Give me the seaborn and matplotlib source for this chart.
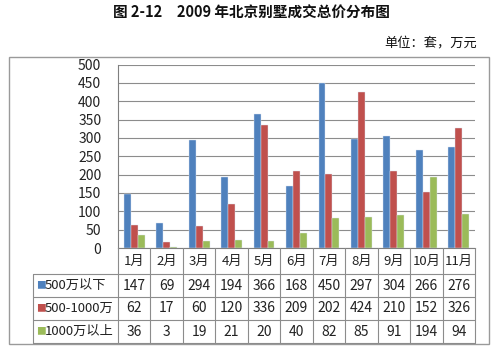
import numpy as np
import pandas as pd
import matplotlib
matplotlib.use("Agg")
import matplotlib.pyplot as plt
import seaborn as sns
from matplotlib.transforms import blended_transform_factory
from matplotlib.lines import Line2D
from matplotlib.patches import Rectangle

months = ["1月", "2月", "3月", "4月", "5月", "6月", "7月", "8月", "9月", "10月", "11月"]
series_names = ["500万以下", "500-1000万", "1000万以上"]
below_500 = [147, 69, 294, 194, 366, 168, 450, 297, 304, 266, 276]
mid_500_1000 = [62, 17, 60, 120, 336, 209, 202, 424, 210, 152, 326]
above_1000 = [36, 3, 19, 21, 20, 40, 82, 85, 91, 194, 94]
colors = ["#4F81BD", "#C0504D", "#9BBB59"]
title = "图 2-12　2009 年北京别墅成交总价分布图"
unit = "单位：套，万元"

sns.set_theme(style="white")
plt.rcParams["font.family"] = ["Noto Sans CJK SC", "DejaVu Sans"]

W, H = 500, 351
fig = plt.figure(figsize=(W / 100, H / 100), dpi=100)
fig.patch.set_facecolor("white")

def fx(px):
    return px / W

def fy(py):
    return 1 - py / H

ax_l, ax_r, ax_t, ax_b = 118, 475, 64.5, 248
ax = fig.add_axes([fx(ax_l), fy(ax_b), fx(ax_r - ax_l), (ax_b - ax_t) / H])

values_all = [below_500, mid_500_1000, above_1000]
df = pd.DataFrame({
    "month": np.tile(months, 3),
    "series": np.repeat(series_names, len(months)),
    "value": np.concatenate(values_all),
})
sns.barplot(data=df, x="month", y="value", hue="series", order=months,
            hue_order=series_names, palette=colors, width=0.64, dodge=True,
            ax=ax, legend=False, saturation=1, errorbar=None)
for p in ax.patches:
    p.set_edgecolor("#dce6f2")
    p.set_linewidth(0.3)

ax.set_xlim(-0.5, len(months) - 0.5)
ax.set_ylim(0, 500)
ax.set_yticks(np.arange(0, 501, 50))
ax.yaxis.grid(True, color="#8c8c8c", linewidth=0.8)
ax.set_axisbelow(True)
ax.set_xlabel("")
ax.set_ylabel("")
ax.set_xticks([])
ax.tick_params(axis="y", length=0, pad=12, labelsize=10, labelcolor="#222222")
for s in ["top", "right"]:
    ax.spines[s].set_visible(False)
ax.spines["left"].set_color("#7f7f7f")
ax.spines["bottom"].set_color("#7f7f7f")
ax.spines["left"].set_linewidth(0.8)
ax.spines["bottom"].set_linewidth(0.8)

# outer frame
fig.add_artist(Rectangle((fx(9), fy(344)), fx(489 - 9), (344 - 57) / H,
                         transform=fig.transFigure, fill=False,
                         edgecolor="#9a9a9a", linewidth=1.0))

# data table
tr = blended_transform_factory(ax.transData, fig.transFigure)
line_c = "#8c8c8c"
rows_y = [248, 274, 297, 320, 343]
for i in range(len(months) + 1):
    fig.add_artist(Line2D([i - 0.5, i - 0.5], [fy(248), fy(343)], transform=tr,
                          color=line_c, linewidth=0.8))
for yy in rows_y[1:]:
    fig.add_artist(Line2D([fx(33), fx(ax_r)], [fy(yy), fy(yy)],
                          transform=fig.transFigure, color=line_c, linewidth=0.8))
fig.add_artist(Line2D([fx(33), fx(33)], [fy(274), fy(343)],
                      transform=fig.transFigure, color=line_c, linewidth=0.8))

for i, m in enumerate(months):
    fig.text(i, fy((248 + 274) / 2), m, transform=tr, ha="center", va="center",
             fontsize=9.5, color="#222222")
for r, (name, vals, c) in enumerate(zip(series_names, values_all, colors)):
    yc = fy((rows_y[r + 1] + rows_y[r + 2]) / 2)
    fig.text(fx(36), yc, "■", color=c, ha="left", va="center", fontsize=7)
    fig.text(fx(45), yc, name, color="#222222", ha="left", va="center", fontsize=9.5)
    for i, v in enumerate(vals):
        fig.text(i, yc, str(v), transform=tr, ha="center", va="center",
                 fontsize=10, color="#222222")

fig.text(fx(251), fy(13), title, ha="center", va="center", fontsize=10.5,
         fontweight="bold", color="#111111")
fig.text(fx(477), fy(43), unit, ha="right", va="center", fontsize=9.5,
         color="#111111")

fig.savefig("out.png", dpi=100, facecolor="white")
